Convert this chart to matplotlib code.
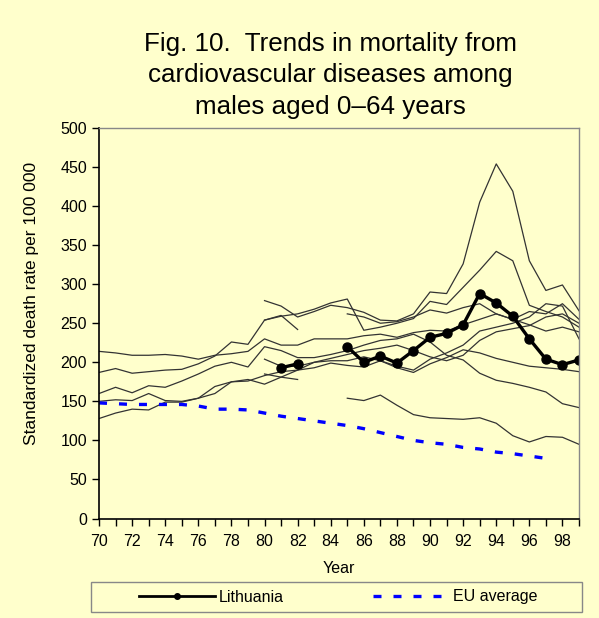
import numpy as np
import matplotlib
matplotlib.use("Agg")
import matplotlib.pyplot as plt
from matplotlib.lines import Line2D
from matplotlib.patches import Rectangle

plt.rcParams['font.family'] = ['Liberation Sans', 'DejaVu Sans']

# Years shown on the category axis
years = np.arange(1970, 2000)
nan = np.nan

# Lithuania (bold line with markers)
lithuania = [nan]*11 + [193, 198, nan, nan, 220, 200, 208, 199, 215, 232,
                        237, 248, 288, 276, 259, 230, 204, 197, 203]

# EU average (blue dashed), 1970-1997
eu_average = [148, 147, 146, 146, 146, 146, 144, 140, 140, 139, 135, 131, 128,
              125, 122, 119, 115, 110, 105, 100, 97, 95, 91, 89, 85, 83, 80,
              77] + [nan, nan]

# Other countries (thin lines), 1970-1999
country_a = [214, 212, 209, 209, 210, 208, 204, 209, 211, 214, 230, 222, 222,
             230, 230, 230, 234, 236, 232, 238, 241, 240, 248, 255, 262, 255,
             265, 262, 275, 255]
country_b = [187, 192, 186, 188, 190, 191, 198, 208, 226, 223, 254, 259, 262,
             268, 276, 281, 241, 245, 250, 256, 278, 274, 296, 318, 342, 330,
             273, 265, 258, 245]
country_c = [160, 168, 161, 170, 168, 176, 185, 195, 200, 194, 220, 215, 206,
             206, 210, 215, 222, 228, 230, 236, 226, 209, 203, 186, 177, 173,
             168, 162, 147, 142]
country_d = [150, 152, 151, 160, 151, 150, 154, 169, 175, 178, 172, 181, 190,
             193, 199, 196, 194, 202, 193, 187, 198, 206, 216, 212, 205, 200,
             195, 193, 191, 188]
country_e = [128, 135, 140, 139, 149, 149, 154, 160, 175, 176, 183, 188, 190,
             200, 202, 202, 207, 202, 195, 190, 204, 212, 222, 240, 245, 250,
             258, 275, 272, 230]
country_f = [nan]*10 + [279, 272, 258, 265, 273, 270, 264, 254, 253, 262, 290,
                        288, 326, 405, 454, 419, 330, 292, 299, 266]
country_g = [nan]*10 + [254, 260, 242] + [nan]*17
country_h = [nan]*10 + [185, 181, 178] + [nan]*17
country_i = [nan]*15 + [154, 151, 158, 145, 133, 129, 128, 127, 129, 122, 106,
                        98, 105, 104, 95]
country_j = [nan]*15 + [262, 258, 250, 252, 258, 267, 263, 270, 275, 262, 255,
                        248, 240, 245, 239]
country_k = [nan]*10 + [204, 195, 195, 200, 205, 210, 215, 218, 222, 215, 207,
                        202, 209, 228, 239, 243, 247, 258, 262, 250]
others = [country_a, country_b, country_c, country_d, country_e, country_f,
          country_g, country_h, country_i, country_j, country_k]

bg = '#FFFFCC'
fig = plt.figure(figsize=(5.99, 6.18), dpi=100, facecolor=bg)
ax = fig.add_axes([0.1653, 0.161, 0.8013, 0.6319], facecolor=bg)

for series in others:
    ax.plot(years, series, color='#333333', lw=0.9)

ax.plot(years, lithuania, color='black', lw=2.4, marker='o', ms=6.5)
ax.plot(years, eu_average, color='#0000FF', lw=2.4, linestyle=(0, (2.4, 3.6)))

ax.set_xlim(1970, 1999)
ax.set_ylim(0, 500)
ax.set_yticks(np.arange(0, 501, 50))
ax.set_xticks(years, minor=True)
ax.set_xticks(years[::2])
ax.set_xticklabels([f"{y % 100:02d}" for y in years[::2]])
ax.tick_params(axis='both', which='both', direction='out', length=5,
               width=1, labelsize=11.5, colors='black')
ax.tick_params(axis='x', pad=6)

for side in ['left', 'bottom']:
    ax.spines[side].set_color('black')
    ax.spines[side].set_linewidth(1.2)
for side in ['top', 'right']:
    ax.spines[side].set_color('#888888')
    ax.spines[side].set_linewidth(1.0)

ax.set_xlabel('Year', fontsize=11.5, labelpad=9)
ax.set_ylabel('Standardized death rate per 100 000', fontsize=12.5)
ax.yaxis.set_label_coords(-0.125, 0.55)

fig.text(0.551, 0.949, 'Fig. 10.  Trends in mortality from\n'
         'cardiovascular diseases among\nmales aged 0\u201364 years',
         ha='center', va='top', fontsize=18.7, linespacing=1.42)

# legend frame spans nearly the full figure width
fig.patches.append(Rectangle((91 / 599, 1 - 612 / 618), 491 / 599, 30 / 618,
                             transform=fig.transFigure, facecolor=bg,
                             edgecolor='#888888', lw=1.0))
handles = [Line2D([], [], color='black', lw=2, marker='o', ms=4),
           Line2D([], [], color='#0000FF', lw=2.4, linestyle=(0, (2.4, 3.6)))]
leg = fig.legend(handles, ['Lithuania', 'EU average'], loc='center',
                 bbox_to_anchor=(0.564, 1 - 597 / 618), ncol=2, fontsize=11.5,
                 handlelength=4.8, columnspacing=5.6, handletextpad=0.2,
                 frameon=False)

fig.savefig('out.png', dpi=100, facecolor=bg)
